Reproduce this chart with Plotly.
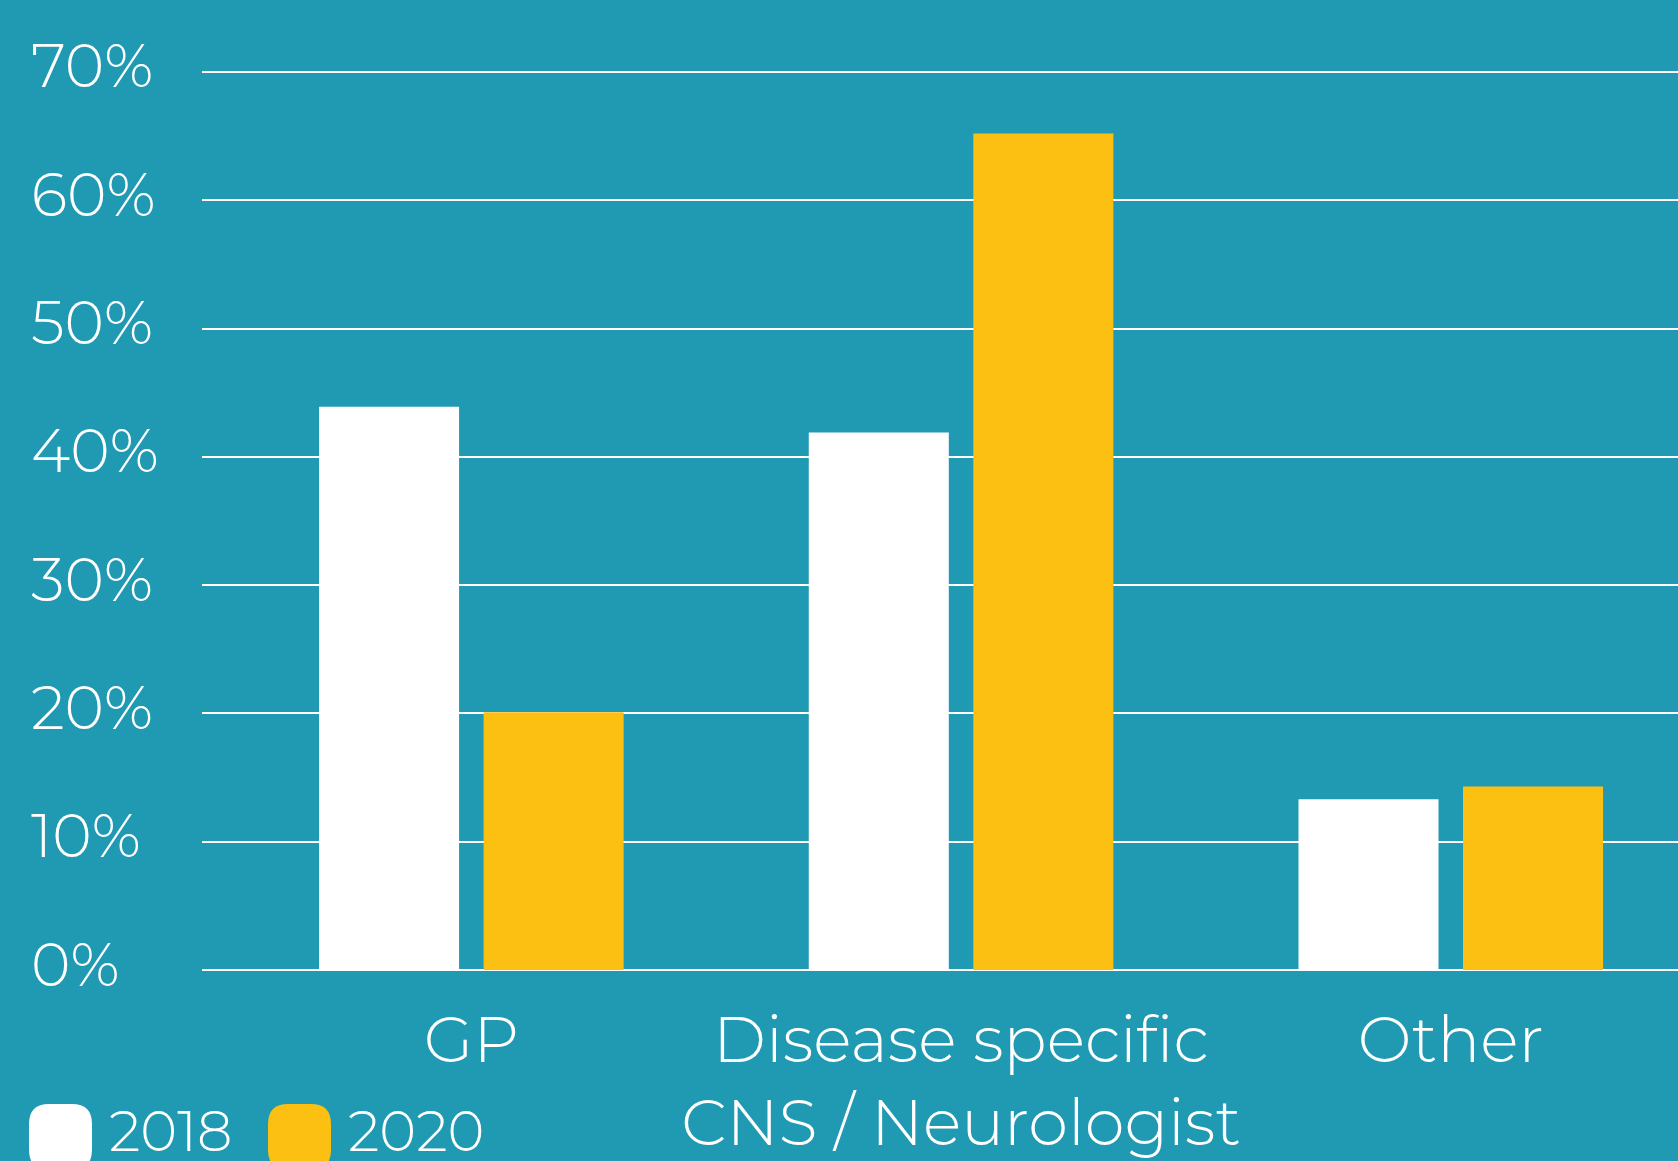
import plotly.graph_objects as go

categories = ["GP", "Disease specific<br>CNS / Neurologist", "Other"]
series_names = ["2018", "2020"]
values_2018 = [43.9, 41.9, 13.3]
values_2020 = [20.1, 65.2, 14.3]
y_ticks = [0, 10, 20, 30, 40, 50, 60, 70]
y_tick_labels = ["0%", "10%", "20%", "30%", "40%", "50%", "60%", "70%"]

BG = "#2099b3"
WHITE = "#ffffff"
YELLOW = "#fcc012"
FONT = "Montserrat, Lato, 'Open Sans', sans-serif"

W, H = 1678, 1161
ML, MR, MT, MB = 202, 0, 0, 191
PW, PH = W - ML - MR, H - MT - MB


def px_to_paper_x(px):
    return (px - ML) / PW


def px_to_paper_y(py):
    return (H - MB - py) / PH


fig = go.Figure()
fig.add_trace(go.Bar(x=categories, y=values_2018, name=series_names[0],
                     marker=dict(color=WHITE, line=dict(width=0))))
fig.add_trace(go.Bar(x=categories, y=values_2020, name=series_names[1],
                     marker=dict(color=YELLOW, line=dict(width=0))))

# y tick labels, left aligned
annotations = []
for v, lab in zip(y_ticks, y_tick_labels):
    annotations.append(dict(
        x=px_to_paper_x(29), xref="paper", y=v, yref="y",
        text=lab, showarrow=False, xanchor="left", yanchor="middle",
        yshift=6, font=dict(family=FONT, size=60, color=WHITE, weight=300)))

# legend drawn manually with rounded squares
def rounded_rect(hw, hh, r):
    return (f"M {-hw + r},{-hh} L {hw - r},{-hh} Q {hw},{-hh} {hw},{-hh + r} "
            f"L {hw},{hh - r} Q {hw},{hh} {hw - r},{hh} L {-hw + r},{hh} "
            f"Q {-hw},{hh} {-hw},{hh - r} L {-hw},{-hh + r} Q {-hw},{-hh} {-hw + r},{-hh} Z")

shapes = []
legend_items = [(series_names[0], WHITE, 60.5, 107), (series_names[1], YELLOW, 299.5, 346)]
for name, col, cx, tx in legend_items:
    shapes.append(dict(
        type="path", xref="paper", yref="paper",
        xsizemode="pixel", ysizemode="pixel",
        xanchor=px_to_paper_x(cx), yanchor=px_to_paper_y(1137),
        path=rounded_rect(31.5, 33, 20),
        fillcolor=col, line=dict(width=0), layer="above"))
    annotations.append(dict(
        x=px_to_paper_x(tx), xref="paper", y=px_to_paper_y(1131), yref="paper",
        text=name, showarrow=False, xanchor="left", yanchor="middle",
        font=dict(family=FONT, size=56, color=WHITE, weight=300)))

fig.update_layout(
    width=W, height=H,
    margin=dict(l=ML, r=MR, t=MT, b=MB, pad=0),
    paper_bgcolor=BG, plot_bgcolor=BG,
    barmode="group", bargap=0.328, bargroupgap=0.149,
    showlegend=False,
    font=dict(family=FONT, color=WHITE),
    annotations=annotations, shapes=shapes,
    xaxis=dict(range=[-0.55, 2.464], showgrid=False, zeroline=False,
               showline=False, ticks="", ticklabelstandoff=27,
               tickfont=dict(family=FONT, size=64, color=WHITE, weight=300)),
    yaxis=dict(range=[0, 75.61], tickvals=y_ticks, showticklabels=False,
               showgrid=True, gridcolor=WHITE, gridwidth=2,
               zeroline=True, zerolinecolor=WHITE, zerolinewidth=2),
)

fig.write_html("out.html")
